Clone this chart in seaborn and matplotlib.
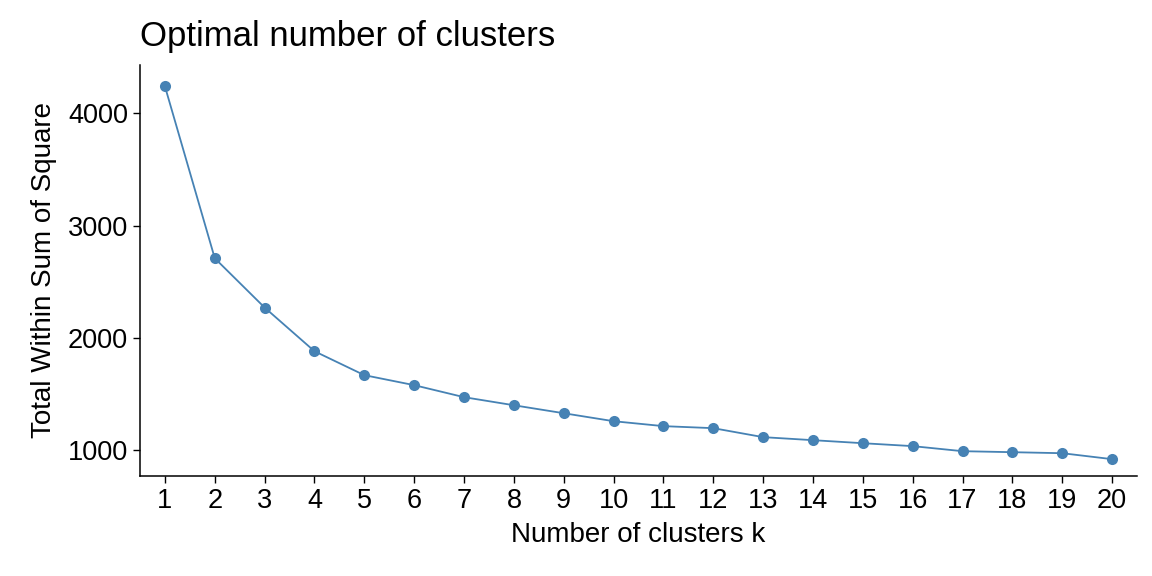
import numpy as np
import pandas as pd
import seaborn as sns
import matplotlib
matplotlib.use("Agg")
import matplotlib.pyplot as plt

# valori
k_values = list(range(1, 21))
wss = [4240, 2709, 2270, 1881, 1668, 1579, 1472, 1400, 1329, 1258,
       1214, 1196, 1116, 1089, 1062, 1036, 991, 982, 973, 920]

df = pd.DataFrame({"k": k_values, "wss": wss})

sns.set_theme(style="ticks")
plt.rcParams['font.family'] = ['Liberation Sans', 'DejaVu Sans']

fig = plt.figure(figsize=(11.52, 5.76), dpi=100)
ax = fig.add_axes([140 / 1152, 100 / 576, 997 / 1152, 411 / 576])

sns.lineplot(data=df, x="k", y="wss", color="steelblue", linewidth=1.3,
             marker="o", markersize=8, markeredgewidth=0, ax=ax)

ax.set_xlim(0.5, 20.5)
ax.set_ylim(770, 4430)
ax.set_xticks(k_values)
ax.set_yticks([1000, 2000, 3000, 4000])
ax.tick_params(labelsize=19.5, colors="black", length=5, width=1)
ax.set_xlabel("Number of clusters k", fontsize=20, color="black", labelpad=6)
ax.set_ylabel("Total Within Sum of Square", fontsize=20, color="black", labelpad=8)
ax.set_title("Optimal number of clusters", fontsize=25, loc="left", pad=14,
             color="black")
sns.despine(ax=ax)
for s in ["left", "bottom"]:
    ax.spines[s].set_color("black")
    ax.spines[s].set_linewidth(1.1)

fig.savefig("out.png", dpi=100)
